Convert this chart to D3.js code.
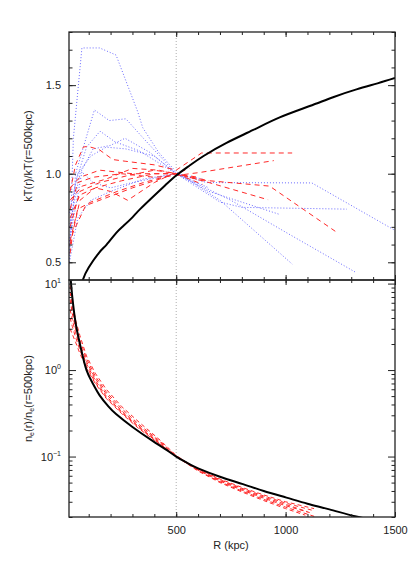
<!DOCTYPE html>
<html>
<head>
<meta charset="utf-8">
<script src="https://cdn.jsdelivr.net/npm/d3@7"></script>
<style>
  body { margin: 0; background: #fff; }
  svg { display: block; font-family: "Liberation Sans", Arial, sans-serif; }
  .tick line { stroke: #222; }
</style>
</head>
<body>
<div id="chart"></div>
<script>
// Configuration
var config = {
    width: 415,
    height: 561,
    left: 69, right: 395,
    topY0: 32, topY1: 280,
    botY0: 280, botY1: 517
};

// Temperature profiles, kT(r)/kT(500 kpc): [R (kpc), value]
var ktModel = [[55,0.32],[73,0.40],[100,0.47],[148,0.555],[182,0.60],[225,0.665],[258,0.705],[301,0.755],[335,0.80],
    [411,0.89],[450,0.935],[500,0.99],[560,1.045],[625,1.10],[730,1.174],[852,1.247],[973,1.318],[1110,1.382],[1217,1.432],
    [1324,1.476],[1420,1.51],[1500,1.54]];

var ktBlue = [
    [[12,0.52],[30,1.2],[69,1.71],[150,1.71],[225,1.67],[324,1.35],[347,1.26],[420,1.12],[500,1.01],[700,0.85],[1030,0.49]],
    [[12,0.55],[40,1.0],[126,1.36],[194,1.30],[270,1.31],[350,1.2],[500,1.0],[750,0.85],[1000,0.67],[1325,0.44]],
    [[12,0.6],[40,0.95],[90,1.15],[152,1.24],[220,1.18],[330,1.13],[500,1.0],[640,0.95],[1120,0.948],[1500,0.68]],
    [[12,0.7],[60,1.0],[120,1.14],[200,1.16],[266,1.2],[380,1.12],[500,1.0],[650,0.9],[973,0.77]],
    [[12,0.78],[50,1.0],[110,1.1],[180,1.15],[270,1.14],[400,1.1],[500,1.0],[700,0.84],[800,0.81],[1280,0.80]],
    [[12,0.62],[69,1.01],[120,0.95],[200,0.92],[300,0.95],[500,1.0],[650,0.92]],
    [[12,0.5],[50,0.75],[110,0.85],[200,0.9],[350,0.97],[500,1.0],[620,0.97]]
];

var ktRed = [
    [[15,0.9],[40,1.05],[75,1.15],[95,1.155],[148,1.136],[210,1.08],[270,1.07],[400,1.05],[500,1.02],[616,1.117],[1030,1.117]],
    [[15,0.8],[50,0.95],[120,0.98],[250,1.0],[400,0.98],[500,0.99],[608,1.007],[946,1.074]],
    [[15,0.7],[60,0.9],[150,0.95],[280,0.99],[400,1.02],[500,1.0],[608,0.965],[927,0.93],[1227,0.675]],
    [[15,0.6],[60,0.85],[130,0.92],[250,0.96],[400,1.0],[500,1.0],[650,0.95],[920,0.853]],
    [[15,0.62],[50,0.8],[110,0.84],[230,0.9],[350,0.95],[500,1.0],[650,0.96]],
    [[15,0.55],[27,0.665],[86,0.82],[193,0.87],[300,0.92],[500,1.0],[600,0.98]],
    [[15,0.85],[70,0.93],[180,0.97],[300,1.03],[420,1.02],[500,1.0],[620,0.94]],
    [[15,0.92],[60,0.98],[150,1.02],[300,1.0],[500,1.0],[560,1.03]],
    [[15,0.75],[60,0.88],[130,0.92],[200,0.9],[278,0.85],[400,0.95],[500,1.01]]
];

// Density profiles, ne(r)/ne(500 kpc)
var neModel = [[18,11],[25,7],[34,4.5],[45,3.0],[65,1.75],[90,1.0],[120,0.69],[150,0.51],[190,0.38],[225,0.31],
    [300,0.22],[392,0.152],[450,0.122],[500,0.1],[550,0.0845],[600,0.073],[700,0.0585],[805,0.048],[900,0.040],
    [1004,0.0335],[1100,0.0285],[1200,0.0245],[1317,0.0204],[1400,0.0185]];

var neR = [15,25,40,60,90,130,180,250,330,420,500,600,700,800,900,1000];
var neRed = [
    { rEnd: 1100, last: 0.023,  vals: [9.5,6.0,3.8,2.5,1.45,0.92,0.6,0.38,0.25,0.16,0.103,0.07,0.053,0.042,0.034,0.028] },
    { rEnd: 1140, last: 0.02,   vals: [8.0,5.2,3.3,2.2,1.35,0.85,0.56,0.36,0.235,0.155,0.101,0.069,0.051,0.04,0.032,0.026] },
    { rEnd: 1090, last: 0.021,  vals: [6.5,4.5,3.0,2.0,1.25,0.8,0.53,0.34,0.225,0.15,0.1,0.068,0.05,0.039,0.031,0.025] },
    { rEnd: 1110, last: 0.0225, vals: [5.0,3.8,2.7,1.85,1.18,0.76,0.5,0.33,0.22,0.146,0.099,0.07,0.052,0.041,0.033,0.027] },
    { rEnd: 1120, last: 0.024,  vals: [4.0,3.2,2.4,1.7,1.1,0.72,0.48,0.32,0.215,0.143,0.1,0.071,0.054,0.043,0.035,0.029] },
    { rEnd: 1130, last: 0.025,  vals: [3.0,2.6,2.1,1.55,1.05,0.7,0.47,0.315,0.21,0.142,0.101,0.072,0.055,0.044,0.036,0.030] }
];

var xMajor = [500, 1000, 1500];
var xMinor = d3.range(100, 1500, 100);
var ktMajor = [0.5, 1.0, 1.5];
var ktMinor = d3.range(4, 19).map(function(d) { return d / 10; });
var neDecades = [-1, 0, 1];

var svg = d3.select("#chart").append("svg")
    .attr("width", config.width)
    .attr("height", config.height);

var x = d3.scaleLinear().domain([10, 1500]).range([config.left, config.right]);
var yT = d3.scaleLinear().domain([0.4, 1.8]).range([config.topY1, config.topY0]);
var yB = d3.scaleLog().domain([0.02, 11]).range([config.botY1, config.botY0]);

var defs = svg.append("defs");
defs.append("clipPath").attr("id", "clipTop").append("rect")
    .attr("x", config.left).attr("y", config.topY0)
    .attr("width", config.right - config.left).attr("height", config.topY1 - config.topY0);
defs.append("clipPath").attr("id", "clipBot").append("rect")
    .attr("x", config.left).attr("y", config.botY0)
    .attr("width", config.right - config.left).attr("height", config.botY1 - config.botY0);

// dotted reference line at 500 kpc
svg.append("line")
    .attr("x1", x(500)).attr("x2", x(500))
    .attr("y1", config.topY0).attr("y2", config.botY1)
    .style("stroke", "#999").style("stroke-width", 0.8).style("stroke-dasharray", "1,2");

// ---- top panel ----
var lineT = d3.line().x(function(d) { return x(d[0]); }).y(function(d) { return yT(d[1]); });
var gT = svg.append("g").attr("clip-path", "url(#clipTop)");

gT.selectAll(".blue").data(ktBlue).enter().append("path")
    .attr("d", lineT)
    .style("fill", "none").style("stroke", "#6a6aff").style("stroke-width", 1)
    .style("stroke-dasharray", "1,2");

gT.selectAll(".red").data(ktRed).enter().append("path")
    .attr("d", lineT)
    .style("fill", "none").style("stroke", "#ff2a2a").style("stroke-width", 1)
    .style("stroke-dasharray", "5,4");

gT.append("path").datum(ktModel)
    .attr("d", lineT.curve(d3.curveNatural))
    .style("fill", "none").style("stroke", "#000").style("stroke-width", 2);

// ---- bottom panel ----
var lineB = d3.line().x(function(d) { return x(d[0]); }).y(function(d) { return yB(d[1]); });
var gB = svg.append("g").attr("clip-path", "url(#clipBot)");

gB.selectAll(".red").data(neRed).enter().append("path")
    .attr("d", function(s) {
        var pts = neR.map(function(r, i) { return [r, s.vals[i]]; });
        pts.push([s.rEnd, s.last]);
        return lineB(pts);
    })
    .style("fill", "none").style("stroke", "#ff2a2a").style("stroke-width", 1)
    .style("stroke-dasharray", "4,3");

gB.append("path").datum(neModel)
    .attr("d", lineB.curve(d3.curveNatural))
    .style("fill", "none").style("stroke", "#000").style("stroke-width", 2);

// ---- axes ----
function noLabels() { return ""; }
function stripDomain(g) { g.select(".domain").remove(); }

// x axes: ticks pointing into each panel, on top and bottom edges of both panels
[[config.topY0, d3.axisBottom], [config.topY1, d3.axisTop],
 [config.botY0, d3.axisBottom], [config.botY1, d3.axisTop]].forEach(function(a) {
    svg.append("g").attr("transform", "translate(0," + a[0] + ")")
        .call(a[1](x).tickValues(xMinor).tickSize(3).tickFormat(noLabels)).call(stripDomain);
    svg.append("g").attr("transform", "translate(0," + a[0] + ")")
        .call(a[1](x).tickValues(xMajor).tickSize(5).tickFormat(noLabels)).call(stripDomain);
});

// x labels
svg.append("g").attr("transform", "translate(0," + config.botY1 + ")")
    .call(d3.axisBottom(x).tickValues(xMajor).tickSize(0).tickPadding(9).tickFormat(d3.format("d")))
    .call(stripDomain)
    .selectAll("text").style("font-size", "11px").style("fill", "#222")
    .style("font-family", "'Liberation Sans', Arial, sans-serif");

// y axes top panel
[[config.left, d3.axisRight], [config.right, d3.axisLeft]].forEach(function(a) {
    svg.append("g").attr("transform", "translate(" + a[0] + ",0)")
        .call(a[1](yT).tickValues(ktMinor).tickSize(3.5).tickFormat(noLabels)).call(stripDomain);
    svg.append("g").attr("transform", "translate(" + a[0] + ",0)")
        .call(a[1](yT).tickValues(ktMajor).tickSize(7).tickFormat(noLabels)).call(stripDomain);
});
svg.append("g").attr("transform", "translate(" + config.left + ",0)")
    .call(d3.axisLeft(yT).tickValues(ktMajor).tickSize(0).tickPadding(8).tickFormat(d3.format(".1f")))
    .call(stripDomain)
    .selectAll("text").style("font-size", "11px").style("fill", "#222")
    .style("font-family", "'Liberation Sans', Arial, sans-serif");

// y axes bottom panel (log)
var neMinor = [];
neDecades.concat([-2]).forEach(function(k) {
    d3.range(2, 10).forEach(function(m) {
        var v = m * Math.pow(10, k);
        if (v >= 0.02 && v <= 11) neMinor.push(v);
    });
});
var neMajor = neDecades.map(function(k) { return Math.pow(10, k); });
[[config.left, d3.axisRight], [config.right, d3.axisLeft]].forEach(function(a) {
    svg.append("g").attr("transform", "translate(" + a[0] + ",0)")
        .call(a[1](yB).tickValues(neMinor).tickSize(3.5).tickFormat(noLabels)).call(stripDomain);
    svg.append("g").attr("transform", "translate(" + a[0] + ",0)")
        .call(a[1](yB).tickValues(neMajor).tickSize(7).tickFormat(noLabels)).call(stripDomain);
});
var neLab = svg.append("g").selectAll("text").data(neDecades).enter().append("text")
    .attr("x", config.left - 8)
    .attr("y", function(k) { return yB(Math.pow(10, k)) + 4; })
    .style("text-anchor", "end").style("font-size", "11px").style("fill", "#222");
neLab.append("tspan").text("10");
neLab.append("tspan").attr("dy", -5).style("font-size", "7px").text(function(k) { return k < 0 ? "\u2212" + (-k) : String(k); });

// frames
[[config.topY0, config.topY1], [config.botY0, config.botY1]].forEach(function(p) {
    svg.append("rect")
        .attr("x", config.left).attr("y", p[0])
        .attr("width", config.right - config.left).attr("height", p[1] - p[0])
        .style("fill", "none").style("stroke", "#222").style("stroke-width", 1.3);
});

// axis titles
svg.append("text")
    .attr("transform", "translate(" + 32 + "," + ((config.topY0 + config.topY1) / 2) + ") rotate(-90)")
    .style("text-anchor", "middle").style("font-size", "11px").style("fill", "#222")
    .text("kT(r)/kT(r=500kpc)");

var neTitle = svg.append("text")
    .attr("transform", "translate(" + 32 + "," + ((config.botY0 + config.botY1) / 2) + ") rotate(-90)")
    .style("text-anchor", "middle").style("font-size", "11px").style("fill", "#222");
neTitle.append("tspan").text("n");
neTitle.append("tspan").attr("dy", 2).style("font-size", "7px").text("e");
neTitle.append("tspan").attr("dy", -2).text("(r)/n");
neTitle.append("tspan").attr("dy", 2).style("font-size", "7px").text("e");
neTitle.append("tspan").attr("dy", -2).text("(r=500kpc)");

svg.append("text")
    .attr("x", 231).attr("y", 549)
    .style("text-anchor", "middle").style("font-size", "11px").style("fill", "#222")
    .text("R (kpc)");
</script>
</body>
</html>
